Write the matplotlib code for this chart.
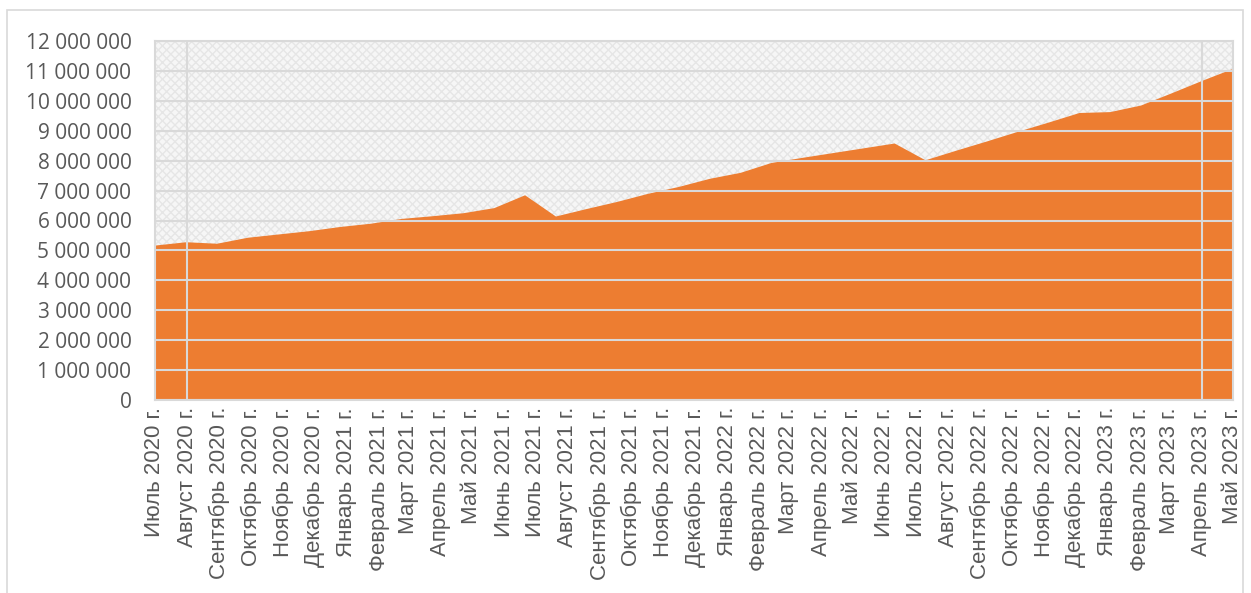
import matplotlib
matplotlib.use('agg')
import matplotlib.pyplot as plt
import pandas as pd
from matplotlib.patches import Rectangle
from matplotlib.ticker import FuncFormatter, MultipleLocator

# values (one point roughly every 29.5 days)
values = [5.18, 5.29, 5.24, 5.44, 5.55, 5.66, 5.80, 5.91, 6.07, 6.16,
          6.26, 6.43, 6.86, 6.15, 6.40, 6.64, 6.91, 7.14, 7.41, 7.61,
          7.94, 8.11, 8.27, 8.43, 8.59, 8.03, 8.35, 8.66, 8.98, 9.29,
          9.61, 9.64, 9.86, 10.27, 10.69, 11.09]
values = [v * 1e6 for v in values]

month_labels = ['Июль 2020 г.', 'Август 2020 г.', 'Сентябрь 2020 г.', 'Октябрь 2020 г.',
                'Ноябрь 2020 г.', 'Декабрь 2020 г.', 'Январь 2021 г.', 'Февраль 2021 г.',
                'Март 2021 г.', 'Апрель 2021 г.', 'Май 2021 г.', 'Июнь 2021 г.',
                'Июль 2021 г.', 'Август 2021 г.', 'Сентябрь 2021 г.', 'Октябрь 2021 г.',
                'Ноябрь 2021 г.', 'Декабрь 2021 г.', 'Январь 2022 г.', 'Февраль 2022 г.',
                'Март 2022 г.', 'Апрель 2022 г.', 'Май 2022 г.', 'Июнь 2022 г.',
                'Июль 2022 г.', 'Август 2022 г.', 'Сентябрь 2022 г.', 'Октябрь 2022 г.',
                'Ноябрь 2022 г.', 'Декабрь 2022 г.', 'Январь 2023 г.', 'Февраль 2023 г.',
                'Март 2023 г.', 'Апрель 2023 г.', 'Май 2023 г.']
grid_dates = ['2020-08-01', '2023-04-01']

start, end = '2020-07-01', '2023-05-01'
point_dates = pd.date_range(start, end, periods=len(values))
tick_dates = pd.date_range(start, end, freq='MS')

grid_color = '#D9D9D9'
text_color = '#595959'

fig = plt.figure(figsize=(12.51, 5.93), dpi=100)
ax = fig.add_axes([155 / 1251, 1 - 400 / 593, (1233 - 155) / 1251, (400 - 41) / 593])

# outer chart border
fig.patches.append(Rectangle((7 / 1251, -0.1), (1243 - 7) / 1251, 1.1 - 10 / 593,
                             transform=fig.transFigure, fill=False,
                             edgecolor=grid_color, lw=1.2))

# patterned plot background
plt.rcParams['hatch.linewidth'] = 1.0
ax.add_patch(Rectangle((0, 0), 1, 1, transform=ax.transAxes, facecolor='#F6F6F6',
                       hatch='xxxx', edgecolor='#E6E6E6', lw=0, zorder=0))

ax.fill_between(point_dates, values, color='#ED7D31', lw=0, zorder=1)

ax.set_xlim(pd.Timestamp(start), pd.Timestamp(end))
ax.set_ylim(0, 12e6)
ax.yaxis.set_major_locator(MultipleLocator(1e6))
ax.yaxis.set_major_formatter(FuncFormatter(lambda v, p: f'{int(v):,}'.replace(',', ' ')))

ax.set_axisbelow(False)
ax.yaxis.grid(True, color=grid_color, lw=1.5)
for d in grid_dates:
    ax.axvline(pd.Timestamp(d), color=grid_color, lw=1.5, zorder=3)

for s in ax.spines.values():
    s.set_color(grid_color)
    s.set_linewidth(1.5)

ax.set_xticks(tick_dates)
ax.set_xticklabels(month_labels, rotation=90, ha='center', va='top',
                   family=['Liberation Sans', 'DejaVu Sans'], fontsize=16, color=text_color)
ax.tick_params(axis='x', length=0, pad=5)
ax.tick_params(axis='y', length=0, pad=17, labelsize=15, labelcolor=text_color)
for lbl in ax.get_yticklabels():
    lbl.set_family(['Open Sans', 'DejaVu Sans'])

fig.savefig('out.png', dpi=100)
